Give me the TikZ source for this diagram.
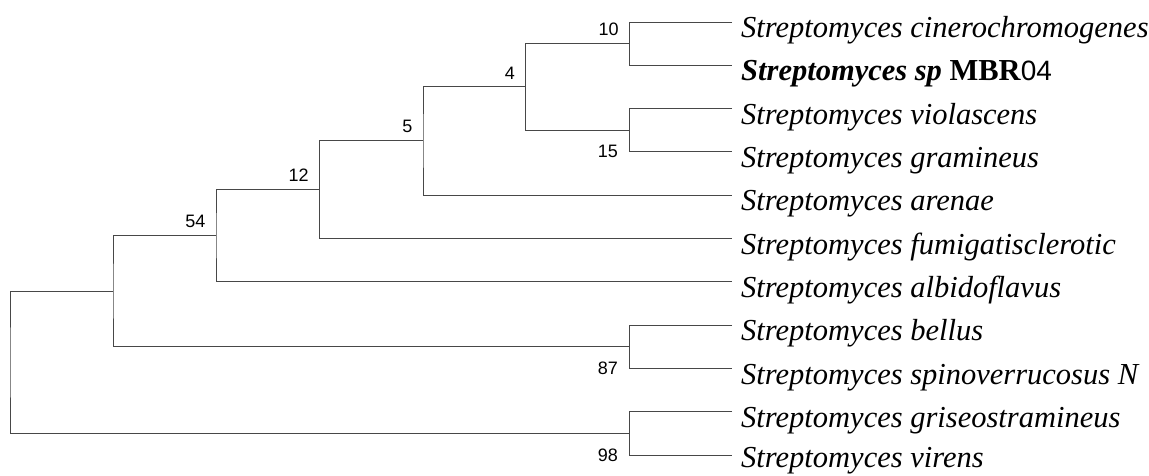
\documentclass[tikz,border=0pt]{standalone}
\usepackage{fontspec}
\setmainfont{Liberation Serif}
\setsansfont{Liberation Sans}
\begin{document}
\begin{tikzpicture}[x=1pt,y=-1pt,
  branch/.style={draw=black!72,line width=1pt},
  leaf/.style={inner sep=0pt,anchor=base west,font=\fontsize{30.5}{36}\selectfont\itshape},
  boot/.style={inner sep=0pt,font=\sffamily\fontsize{18}{21}\selectfont}]
\useasboundingbox (0,0) rectangle (1149,475);

% tip ends (leaf spacing 43.33)
\foreach \i in {1,...,11}{
  \coordinate (t\i) at (732,{22+43.33*(\i-1)});
}

% taxon labels
\node[leaf] (L1) at (741,37.5) {Streptomyces cinerochromogenes};
\node[leaf] (L2) at (741,80.8) {\bfseries Streptomyces sp \upshape MBR{\sffamily\mdseries\fontsize{28}{34}\selectfont 04}};
\node[leaf] (L3) at (741,124.2) {Streptomyces violascens};
\node[leaf] (L4) at (741,167.5) {Streptomyces gramineus};
\node[leaf] (L5) at (741,210.8) {Streptomyces arenae};
\node[leaf] (L6) at (741,254.2) {Streptomyces fumigatisclerotic};
\node[leaf] (L7) at (741,297.5) {Streptomyces albidoflavus};
\node[leaf] (L8) at (741,340.8) {Streptomyces bellus};
\node[leaf] (L9) at (741,384.2) {Streptomyces spinoverrucosus N};
\node[leaf] (L10) at (741,427.5) {Streptomyces griseostramineus};
\node[leaf] (L11) at (741,467.8) {Streptomyces virens};

% internal nodes
\coordinate (n10) at (629.3,43.5);
\coordinate (n15) at (629.3,130.2);
\coordinate (n4) at (525.7,86.8);
\coordinate (n5) at (423,140.8);
\coordinate (n12) at (319.3,189.5);
\coordinate (n54) at (216,235.7);
\coordinate (nA) at (113,291.2);
\coordinate (n87) at (629.3,346.7);
\coordinate (n98) at (629.3,433.5);
\coordinate (root) at (10,362.3);

% branches
\draw[branch] (t1) -| (n10) |- (t2);
\draw[branch] (t3) -| (n15) |- (t4);
\draw[branch] (n10) -| (n4) |- (n15);
\draw[branch] (n4) -| (n5) |- (t5);
\draw[branch] (n5) -| (n12) |- (t6);
\draw[branch] (n12) -| (n54) |- (t7);
\draw[branch] (t8) -| (n87) |- (t9);
\draw[branch] (n54) -| (nA) |- (n87);
\draw[branch] (t10) -| (n98) |- (t11);
\draw[branch] (nA) -| (root) |- (n98);

% bootstrap values
\node[boot,anchor=south east] (b10) at ([shift={(-10.5,-7.5)}]n10) {10};
\node[boot,anchor=south east] (b4) at ([shift={(-10.5,-7.5)}]n4) {4};
\node[boot,anchor=south east] (b5) at ([shift={(-10.5,-7.5)}]n5) {5};
\node[boot,anchor=south east] (b12) at ([shift={(-10.5,-7.5)}]n12) {12};
\node[boot,anchor=south east] (b54) at ([shift={(-10.5,-7.5)}]n54) {54};
\node[boot,anchor=east] (b15) at (618,151) {15};
\node[boot,anchor=east] (b87) at (618,368.5) {87};
\node[boot,anchor=east] (b98) at (618,455.5) {98};
\end{tikzpicture}
\end{document}
